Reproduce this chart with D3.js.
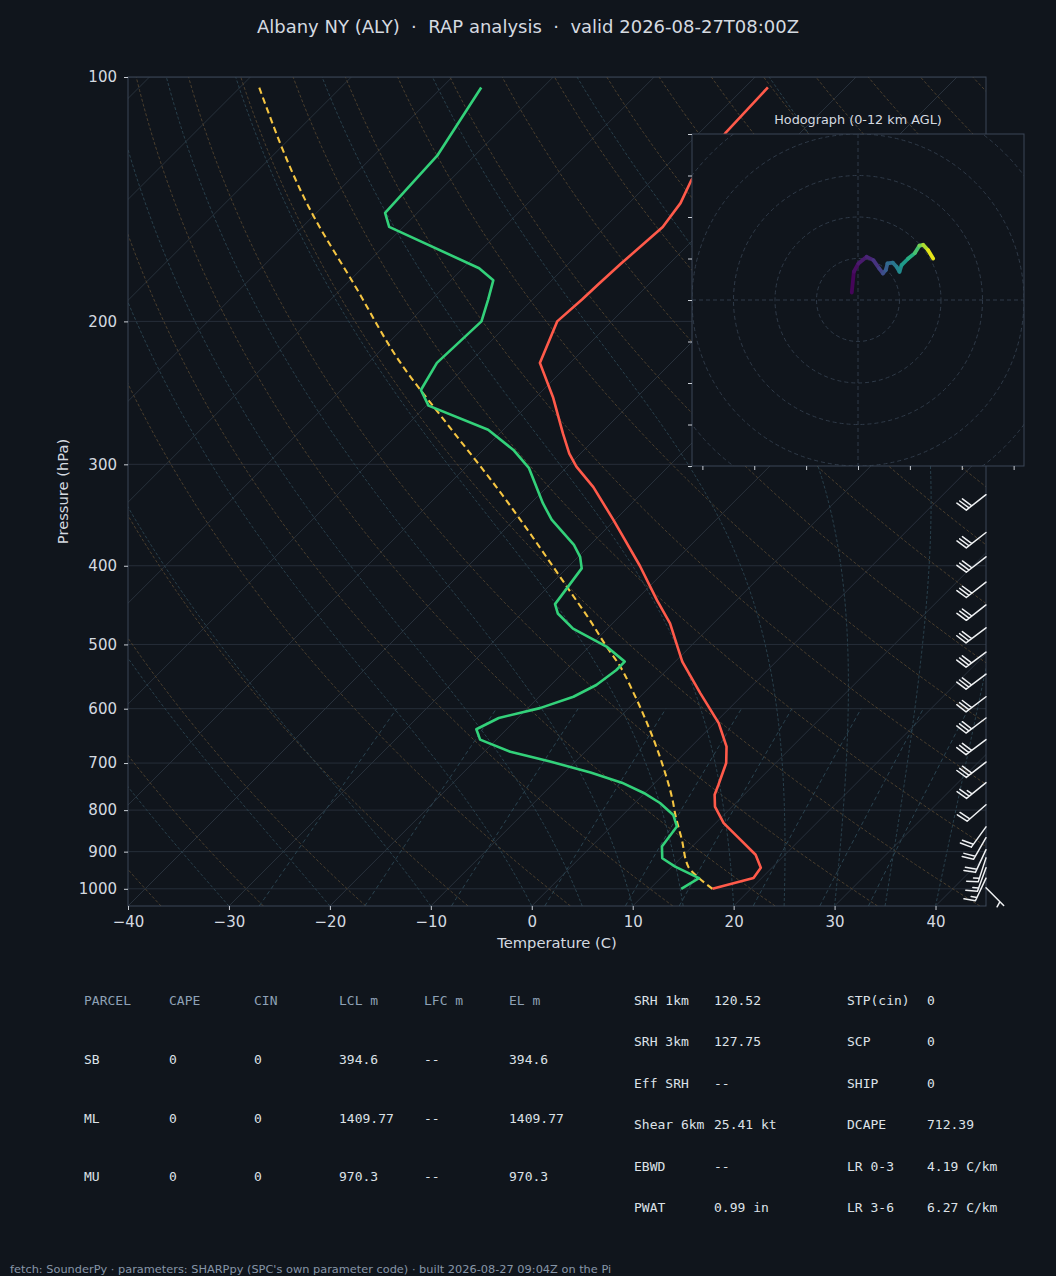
<!DOCTYPE html>
<html>
<head>
<meta charset="utf-8">
<script src="https://cdn.jsdelivr.net/npm/d3@7"></script>
<style>
  body { margin: 0; background: #10151c; }
  svg { display: block; }
</style>
</head>
<body>
<div id="chart"></div>
<script>

// Sounding values (pressure hPa, temperature C).

var tempP = [1000, 970, 942, 908, 870, 830, 792, 766, 745, 700, 668, 625, 574, 525, 471, 441, 400, 351, 320, 302, 291, 275, 248, 225, 200, 188, 180, 170, 153, 143, 134, 117, 103];
var tempC = [16.2, 19.2, 18.9, 17.1, 14.1, 10.8, 8.3, 7.1, 6.5, 5.1, 3.5, 0.4, -4.4, -9.3, -14.3, -17.9, -23.0, -30.2, -35.4, -39.1, -41.1, -43.7, -48.3, -53.0, -55.4, -55.1, -55.0, -54.8, -54.3, -54.9, -56.1, -57.4, -57.7];

var dewP = [1000, 970, 939, 917, 887, 838, 811, 784, 762, 740, 719, 697, 678, 655, 636, 616, 599, 580, 561, 538, 525, 503, 478, 458, 446, 403, 390, 377, 351, 335, 303, 288, 272, 254, 243, 225, 200, 188, 178, 172, 153, 147, 125, 103];
var dewC = [13.1, 13.8, 10.3, 8.2, 7.0, 6.5, 5.0, 2.5, -0.1, -3.3, -7.4, -12.5, -17.4, -21.6, -23.0, -21.9, -18.8, -16.6, -15.5, -15.0, -15.0, -18.3, -23.4, -26.4, -27.6, -28.5, -29.8, -31.6, -36.3, -38.8, -43.7, -47.0, -51.5, -59.8, -62.1, -63.2, -62.9, -64.4, -65.8, -68.4, -81.4, -83.2, -83.7, -86.1];

var parcelP = [1000, 970, 939, 870, 807, 782, 707, 625, 574, 532, 503, 464, 441, 320, 269, 225, 180, 148, 103];
var parcelC = [16.2, 13.8, 11.6, 8.3, 5.0, 3.7, -0.8, -6.7, -11.0, -15.0, -18.3, -22.9, -25.9, -45.0, -55.8, -66.8, -79.2, -90.1, -108.1];

// Wind barbs (kt, direction the wind blows from).
var barbP = [997, 970, 942, 916, 895, 865, 839, 788, 740, 698, 655, 616, 580, 544, 511, 477, 447, 419, 390, 364, 327, 287];
var barbDir = [135, 205, 200, 198, 205, 210, 216, 229, 231, 232, 233, 233, 233, 233, 233, 233, 232, 232, 232, 232, 232, 232];
var barbSpd = [5, 15, 15, 15, 20, 20, 20, 20, 25, 30, 30, 30, 30, 30, 30, 30, 30, 30, 30, 30, 30, 30];

// Hodograph (u, v and height km AGL).
var hodoU = [-1.5, -1.0, 0.1, 2.1, 3.7, 5.1, 6.0, 6.7, 7.1, 8.4, 9.3, 10.0, 10.5, 12.1, 13.7, 14.8, 15.7, 16.9, 18.1];
var hodoV = [1.8, 6.8, 8.8, 10.4, 9.6, 7.6, 6.4, 7.2, 8.8, 9.0, 8.0, 6.8, 8.4, 10.0, 11.3, 13.1, 13.3, 12.0, 10.0];
var hodoZ = [0, 0.3, 0.6, 1.0, 1.5, 2.0, 2.6, 3.2, 3.8, 4.4, 5.0, 5.5, 6.0, 7.0, 8.0, 9.0, 10.0, 11.0, 12.0];

var pressureTicks = [1000, 900, 800, 700, 600, 500, 400, 300, 200, 100];
var tempTicks = [-40, -30, -20, -10, 0, 10, 20, 30, 40];
var mixingRatios = [0.0004, 0.001, 0.002, 0.004, 0.007, 0.01, 0.016, 0.024, 0.032];

var parcelHeader = ['PARCEL', 'CAPE', 'CIN', 'LCL m', 'LFC m', 'EL m'];
var parcelRows = [
  ['SB', '0', '0', '394.6', '--', '394.6'],
  ['ML', '0', '0', '1409.77', '--', '1409.77'],
  ['MU', '0', '0', '970.3', '--', '970.3']
];
var kinLabels = ['SRH 1km', 'SRH 3km', 'Eff SRH', 'Shear 6km', 'EBWD', 'PWAT'];
var kinValues = ['120.52', '127.75', '--', '25.41 kt', '--', '0.99 in'];
var thermoLabels = ['STP(cin)', 'SCP', 'SHIP', 'DCAPE', 'LR 0-3', 'LR 3-6'];
var thermoValues = ['0', '0', '0', '712.39', '4.19 C/km', '6.27 C/km'];

var title = 'Albany NY (ALY)  \u00b7  RAP analysis  \u00b7  valid 2026-08-27T08:00Z';
var footer = 'fetch: SounderPy \u00b7 parameters: SHARPpy (SPC\'s own parameter code) \u00b7 built 2026-08-27 09:04Z on the Pi';

var width = 1056,
  height = 1276;

var bg = '#10151c',
  spine = '#3a4656',
  grid = '#262e39',
  textCol = '#d5dae0';

var svg = d3.select('#chart')
  .append('svg')
  .attr('width', width)
  .attr('height', height)
  .style('font-family', 'DejaVu Sans, sans-serif');

svg.append('rect').attr('width', width).attr('height', height).attr('fill', bg);

var x0 = 128,
  x1 = 986,
  yTop = 77,
  yBot = 906;

// Scales: linear temperature, log pressure, then skew 1px right per px up.

var xScale = d3.scaleLinear().domain([-40, 45]).range([x0, x1]);
var yScale = d3.scaleLog().domain([1050, 100]).range([yBot, yTop]);

function skewX(t, p) {
  return xScale(t) + (yBot - yScale(p));
}

var defs = svg.append('defs');
defs.append('clipPath').attr('id', 'skewClip')
  .append('rect').attr('x', x0).attr('y', yTop).attr('width', x1 - x0).attr('height', yBot - yTop);

var plot = svg.append('g').attr('clip-path', 'url(#skewClip)');

var line = d3.line()
  .x(function(d) { return skewX(d[1], d[0]); })
  .y(function(d) { return yScale(d[0]); });

// Pressure levels for the background curves.
var levels = d3.range(0, 61).map(function(i) {
  return 1050 * Math.pow(100 / 1050, i / 60);
});

// Isobars.
plot.selectAll('.isobar')
  .data(pressureTicks)
  .enter()
  .append('line')
  .attr('x1', x0).attr('x2', x1)
  .attr('y1', function(d) { return yScale(d); })
  .attr('y2', function(d) { return yScale(d); })
  .attr('stroke', grid)
  .attr('stroke-width', 1);

// Isotherms every 10 C.
plot.selectAll('.isotherm')
  .data(d3.range(-160, 50, 10))
  .enter()
  .append('line')
  .attr('x1', function(d) { return skewX(d, 1050); })
  .attr('y1', yBot)
  .attr('x2', function(d) { return skewX(d, 100); })
  .attr('y2', yTop)
  .attr('stroke', '#28313c')
  .attr('stroke-width', 1);

// Dry adiabats.
var dryT0 = d3.range(-40, 246, 10);
plot.selectAll('.dry')
  .data(dryT0)
  .enter()
  .append('path')
  .attr('d', function(t0) {
    return line(levels.map(function(p) {
      return [p, (t0 + 273.15) * Math.pow(p / 1000, 0.28571) - 273.15];
    }));
  })
  .attr('fill', 'none')
  .attr('stroke', '#4a3e2d')
  .attr('stroke-width', 1)
  .attr('stroke-dasharray', '3,2');

// Moist adiabats, integrated up from the bottom edge.
function dTdp(T, p) {
  var es = 6.112 * Math.exp(17.67 * (T - 273.15) / (T - 29.65));
  var rs = 0.622 * es / (p - es);
  var num = 287.04749 * T + 2.501e6 * rs;
  var den = 1004.6 + 2.501e6 * 2.501e6 * rs * 0.622 / (287.04749 * T * T);
  return num / den / p;
}

function moistCurve(t0) {
  var T = t0 + 273.15,
    out = [[levels[0], t0]];
  for (var i = 1; i < levels.length; i++) {
    var pa = levels[i - 1],
      pb = levels[i],
      n = 6,
      h = (pb - pa) / n,
      p = pa;
    for (var k = 0; k < n; k++) {
      var k1 = dTdp(T, p),
        k2 = dTdp(T + h * k1 / 2, p + h / 2),
        k3 = dTdp(T + h * k2 / 2, p + h / 2),
        k4 = dTdp(T + h * k3, p + h);
      T += h * (k1 + 2 * k2 + 2 * k3 + k4) / 6;
      p += h;
    }
    out.push([pb, T - 273.15]);
  }
  return out;
}

var moistT0 = [-40, -30, -20, -10].concat(d3.range(0, 46, 5));
plot.selectAll('.moist')
  .data(moistT0)
  .enter()
  .append('path')
  .attr('d', function(t0) { return line(moistCurve(t0)); })
  .attr('fill', 'none')
  .attr('stroke', '#283f4b')
  .attr('stroke-width', 1)
  .attr('stroke-dasharray', '3,2');

// Mixing ratio lines, 1050 to 600 hPa.
var mixLevels = d3.range(0, 21).map(function(i) { return 1050 - i * 22.5; });
plot.selectAll('.mix')
  .data(mixingRatios)
  .enter()
  .append('path')
  .attr('d', function(w) {
    return line(mixLevels.map(function(p) {
      var e = p * w / (0.622 + w),
        l = Math.log(e / 6.112);
      return [p, 243.5 * l / (17.67 - l)];
    }));
  })
  .attr('fill', 'none')
  .attr('stroke', '#2a4350')
  .attr('stroke-width', 1)
  .attr('stroke-dasharray', '4,3');

// Profiles.

function pairs(ps, ts) {
  return ps.map(function(p, i) { return [p, ts[i]]; });
}

plot.append('path')
  .attr('d', line.curve(d3.curveMonotoneY)(pairs(parcelP, parcelC)))
  .attr('fill', 'none')
  .attr('stroke', '#f5c542')
  .attr('stroke-width', 2.1)
  .attr('stroke-dasharray', '6.5,4');
line.curve(d3.curveLinear);

plot.append('path')
  .attr('d', line(pairs(dewP, dewC)))
  .attr('fill', 'none')
  .attr('stroke', '#33d17a')
  .attr('stroke-width', 2.6)
  .attr('stroke-linejoin', 'round');

plot.append('path')
  .attr('d', line(pairs(tempP, tempC)))
  .attr('fill', 'none')
  .attr('stroke', '#ff5a4a')
  .attr('stroke-width', 2.6)
  .attr('stroke-linejoin', 'round');

// Frame and axes.

svg.append('rect')
  .attr('x', x0).attr('y', yTop)
  .attr('width', x1 - x0).attr('height', yBot - yTop)
  .attr('fill', 'none')
  .attr('stroke', spine)
  .attr('stroke-width', 1);

var yAxis = svg.append('g')
  .attr('transform', 'translate(' + x0 + ',0)')
  .call(d3.axisLeft(yScale)
    .tickValues(pressureTicks)
    .tickFormat(d3.format('d'))
    .tickSize(4)
    .tickPadding(7));

var xAxis = svg.append('g')
  .attr('transform', 'translate(0,' + yBot + ')')
  .call(d3.axisBottom(xScale)
    .tickValues(tempTicks)
    .tickFormat(function(d) { return d < 0 ? '\u2212' + Math.abs(d) : d; })
    .tickSize(4)
    .tickPadding(6));

[xAxis, yAxis].forEach(function(a) {
  a.select('.domain').remove();
  a.selectAll('line').attr('stroke', '#c9ced5');
  a.selectAll('text')
    .attr('fill', textCol)
    .style('font-size', '15px')
    .style('font-family', 'DejaVu Sans, sans-serif');
});

svg.append('text')
  .attr('x', (x0 + x1) / 2)
  .attr('y', 948)
  .attr('text-anchor', 'middle')
  .attr('fill', textCol)
  .style('font-size', '14.7px')
  .text('Temperature (C)');

svg.append('text')
  .attr('transform', 'translate(68,' + (yTop + yBot) / 2 + ') rotate(-90)')
  .attr('text-anchor', 'middle')
  .attr('fill', textCol)
  .style('font-size', '14.7px')
  .text('Pressure (hPa)');

svg.append('text')
  .attr('x', width / 2)
  .attr('y', 33)
  .attr('text-anchor', 'middle')
  .attr('fill', textCol)
  .style('font-size', '18px')
  .style('white-space', 'pre')
  .attr('xml:space', 'preserve')
  .text(title);

// Wind barbs along the right edge.

function barbPath(bx, by, dir, spd) {
  var L = 25,
    H = 0.45 * L,
    W = 0.25 * L,
    S = 0.14 * L;
  var a = dir * Math.PI / 180;
  var s = [Math.sin(a), -Math.cos(a)];
  var n = [-s[1], s[0]];
  function pt(o, h) {
    return (bx + s[0] * o + n[0] * h).toFixed(2) + ',' + (by + s[1] * o + n[1] * h).toFixed(2);
  }
  var r = Math.round(spd / 5) * 5;
  var flags = Math.floor(r / 50);
  r -= flags * 50;
  var full = Math.floor(r / 10);
  r -= full * 10;
  var half = r >= 5;
  var d = 'M' + pt(0, 0) + 'L' + pt(L, 0);
  var off = L;
  for (var i = 0; i < flags; i++) {
    d += 'M' + pt(off, 0) + 'L' + pt(off - W / 2, H) + 'L' + pt(off - W, 0);
    off -= W + S;
  }
  for (var j = 0; j < full; j++) {
    d += 'M' + pt(off, 0) + 'L' + pt(off + W / 2, H);
    off -= S;
  }
  if (half) {
    if (off === L) off -= 1.5 * S;
    d += 'M' + pt(off, 0) + 'L' + pt(off + W / 4, H / 2);
  }
  return d;
}

svg.append('g')
  .selectAll('path')
  .data(barbP)
  .enter()
  .append('path')
  .attr('d', function(p, i) { return barbPath(x1, yScale(p), barbDir[i], barbSpd[i]); })
  .attr('fill', 'none')
  .attr('stroke', '#eef0f2')
  .attr('stroke-width', 1.5)
  .attr('stroke-linecap', 'round');

// Hodograph inset.

var hx0 = 692, hx1 = 1024, hy0 = 134, hy1 = 466;
var hx = d3.scaleLinear().domain([-40, 40]).range([hx0, hx1]);
var hy = d3.scaleLinear().domain([-40, 40]).range([hy1, hy0]);

var hodo = svg.append('g');

defs.append('clipPath').attr('id', 'hodoClip')
  .append('rect').attr('x', hx0).attr('y', hy0).attr('width', hx1 - hx0).attr('height', hy1 - hy0);

hodo.append('rect')
  .attr('x', hx0).attr('y', hy0)
  .attr('width', hx1 - hx0).attr('height', hy1 - hy0)
  .attr('fill', bg);

var hodoInner = hodo.append('g').attr('clip-path', 'url(#hodoClip)');

hodoInner.selectAll('circle')
  .data([10, 20, 30, 40, 50, 60])
  .enter()
  .append('circle')
  .attr('cx', hx(0)).attr('cy', hy(0))
  .attr('r', function(d) { return hx(d) - hx(0); })
  .attr('fill', 'none')
  .attr('stroke', '#2f3a48')
  .attr('stroke-width', 1)
  .attr('stroke-dasharray', '4,3');

hodoInner.append('line')
  .attr('x1', hx0).attr('x2', hx1).attr('y1', hy(0)).attr('y2', hy(0))
  .attr('stroke', '#2f3a48').attr('stroke-dasharray', '4,3');
hodoInner.append('line')
  .attr('x1', hx(0)).attr('x2', hx(0)).attr('y1', hy0).attr('y2', hy1)
  .attr('stroke', '#2f3a48').attr('stroke-dasharray', '4,3');

var segs = d3.range(hodoU.length - 1);
hodoInner.selectAll('.seg')
  .data(segs)
  .enter()
  .append('line')
  .attr('x1', function(i) { return hx(hodoU[i]); })
  .attr('y1', function(i) { return hy(hodoV[i]); })
  .attr('x2', function(i) { return hx(hodoU[i + 1]); })
  .attr('y2', function(i) { return hy(hodoV[i + 1]); })
  .attr('stroke', function(i) { return d3.interpolateViridis((hodoZ[i] + hodoZ[i + 1]) / 24); })
  .attr('stroke-width', 3.8)
  .attr('stroke-linecap', 'round');

hodo.append('rect')
  .attr('x', hx0).attr('y', hy0)
  .attr('width', hx1 - hx0).attr('height', hy1 - hy0)
  .attr('fill', 'none')
  .attr('stroke', spine);

hodo.append('g')
  .attr('transform', 'translate(' + hx0 + ',0)')
  .call(d3.axisLeft(hy).tickValues(d3.range(-40, 41, 10)).tickSize(4).tickFormat(''))
  .call(function(g) {
    g.select('.domain').remove();
    g.selectAll('line').attr('stroke', '#c9ced5');
  });

hodo.append('g')
  .attr('transform', 'translate(0,' + hy1 + ')')
  .call(d3.axisBottom(hx).tickValues(d3.range(-37.5, 38, 12.5)).tickSize(4).tickFormat(''))
  .call(function(g) {
    g.select('.domain').remove();
    g.selectAll('line').attr('stroke', '#c9ced5');
  });

hodo.append('text')
  .attr('x', (hx0 + hx1) / 2)
  .attr('y', 124)
  .attr('text-anchor', 'middle')
  .attr('fill', textCol)
  .style('font-size', '12.8px')
  .text('Hodograph (0-12 km AGL)');

// Parameter tables.

var mono = 'DejaVu Sans Mono, monospace';
var colX = [84, 169, 254, 339, 424, 509];
var rowY = [1063.5, 1122.5, 1181];

svg.append('g')
  .selectAll('text')
  .data(parcelHeader)
  .enter()
  .append('text')
  .attr('x', function(d, i) { return colX[i]; })
  .attr('y', 1004.5)
  .attr('fill', '#8ea1b6')
  .style('font-family', mono)
  .style('font-size', '13px')
  .text(function(d) { return d; });

parcelRows.forEach(function(row, r) {
  svg.append('g')
    .selectAll('text')
    .data(row)
    .enter()
    .append('text')
    .attr('x', function(d, i) { return colX[i]; })
    .attr('y', rowY[r])
    .attr('fill', '#dde2e8')
    .style('font-family', mono)
    .style('font-size', '13px')
    .text(function(d) { return d; });
});

var statY = [1004.5, 1046, 1087.5, 1129, 1170.5, 1212];
var statCols = [
  [634, kinLabels], [714, kinValues], [847, thermoLabels], [927, thermoValues]
];
statCols.forEach(function(c) {
  svg.append('g')
    .selectAll('text')
    .data(c[1])
    .enter()
    .append('text')
    .attr('x', c[0])
    .attr('y', function(d, i) { return statY[i]; })
    .attr('fill', '#dde2e8')
    .style('font-family', mono)
    .style('font-size', '13px')
    .text(function(d) { return d; });
});

svg.append('text')
  .attr('x', 10)
  .attr('y', 1273)
  .attr('fill', '#8796a8')
  .style('font-size', '11.35px')
  .text(footer);

</script>
</body>
</html>
